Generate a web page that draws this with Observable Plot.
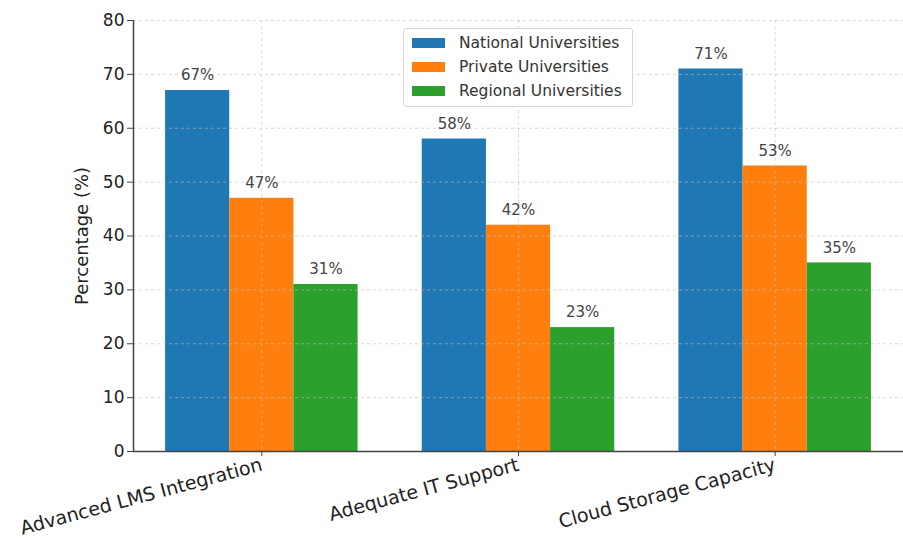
<!DOCTYPE html>
<html>
<head>
<meta charset="utf-8">
<script src="https://cdn.jsdelivr.net/npm/d3@7"></script>
<script src="https://cdn.jsdelivr.net/npm/@observablehq/plot@0.6"></script>
<style>
  html, body { margin: 0; padding: 0; background: white; }
  #wrap { position: relative; width: 903px; height: 539px; font-family: "DejaVu Sans", sans-serif; }
  #legend { position: absolute; left: 403px; top: 28px; width: 230px; height: 79px;
    border: 1px solid #d6d6d6; border-radius: 3px; background: rgba(255,255,255,0.85); box-sizing: border-box; }
  .row { position: absolute; left: 8px; height: 20px; display: flex; align-items: center; font-size: 15.5px; color: #333; }
  .sw { width: 33px; height: 10px; margin-right: 14px; }
</style>
</head>
<body>
<div id="wrap"></div>
<script>
const categories = ["Advanced LMS Integration", "Adequate IT Support", "Cloud Storage Capacity"];
const seriesNames = ["National Universities", "Private Universities", "Regional Universities"];
const national = [67, 58, 71];
const privateU = [47, 42, 53];
const regional = [31, 23, 35];
const colors = ["#1f77b4", "#ff7f0e", "#2ca02c"];
const yTicks = [0, 10, 20, 30, 40, 50, 60, 70, 80];

const seriesValues = [national, privateU, regional];
const barWidth = 0.25;
const rows = [];
seriesValues.forEach((vals, j) => {
  vals.forEach((v, i) => {
    const center = i + (j - 1) * barWidth;
    rows.push({cat: i, series: seriesNames[j], value: v, x1: center - barWidth / 2, x2: center + barWidth / 2, xm: center});
  });
});

const chart = Plot.plot({
  width: 903,
  height: 539,
  marginLeft: 133,
  marginRight: 0,
  marginTop: 20,
  marginBottom: 88,
  style: {fontFamily: "DejaVu Sans", background: "white", color: "#222"},
  x: {domain: [-0.5, 2.5]},
  y: {domain: [0, 80]},
  color: {domain: seriesNames, range: colors},
  marks: [
    Plot.rectY(rows, {x1: "x1", x2: "x2", y: "value", fill: "series"}),
    Plot.gridY(yTicks, {stroke: "#c0c0c0", strokeOpacity: 0.6, strokeDasharray: "3,3"}),
    Plot.gridX([0, 1, 2], {stroke: "#c0c0c0", strokeOpacity: 0.6, strokeDasharray: "3,3"}),
    Plot.text(rows, {x: "xm", y: "value", text: d => d.value + "%", dy: -15, fontSize: 15, fill: "#444"}),
    Plot.ruleY([0], {stroke: "#444", strokeWidth: 1.5}),
    Plot.ruleX([-0.5], {stroke: "#444", strokeWidth: 1.5}),
    Plot.axisY(yTicks, {tickSize: 6, fontSize: 17, stroke: "#444", fill: "#222",
      label: "Percentage (%)", labelAnchor: "center", labelOffset: 58, labelArrow: "none"}),
    Plot.axisX([0, 1, 2], {tickFormat: i => categories[i], tickSize: 5, fontSize: 19, stroke: "#444", fill: "#222",
      tickRotate: -15, textAnchor: "end", label: null})
  ]
});

chart.querySelectorAll("g[aria-label='y-axis label'] text").forEach(t => t.setAttribute("font-size", 18));

const wrap = document.getElementById("wrap");
wrap.appendChild(chart);
const legend = document.createElement("div");
legend.id = "legend";
seriesNames.forEach((name, j) => {
  const r = document.createElement("div");
  r.className = "row";
  r.style.top = (4 + j * 24) + "px";
  r.innerHTML = `<div class="sw" style="background:${colors[j]}"></div><span>${name}</span>`;
  legend.appendChild(r);
});
wrap.appendChild(legend);
</script>
</body>
</html>
